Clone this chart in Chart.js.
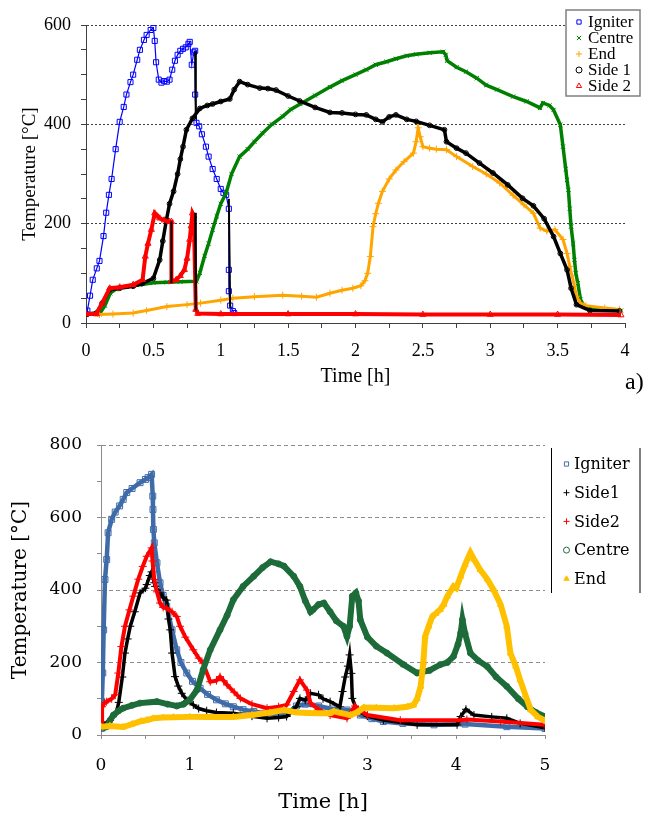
<!DOCTYPE html>
<html>
<head>
<meta charset="utf-8">
<script src="https://cdn.jsdelivr.net/npm/chart.js@4.4.0/dist/chart.umd.min.js"></script>
<style>
  html, body { margin: 0; padding: 0; background: #fff; }
  #wrap { position: relative; width: 663px; height: 831px; }
  #topChart { position: absolute; left: 0; top: 0; }
  #botChart { position: absolute; left: 0; top: 400px; }
  #tag { position: absolute; left: 625px; top: 369px; font: 24px/24px "Liberation Serif", serif; color: #000; }
</style>
</head>
<body>
<div id="wrap">
  <canvas id="topChart" width="663" height="400"></canvas>
  <canvas id="botChart" width="663" height="431"></canvas>
  <div id="tag">a)</div>
</div>
<script>
// ---- panel a) : time [h], temperature [°C] ----
const aIgniter = [[0,18],[0.01,25],[0.03,55],[0.05,87],[0.08,110],[0.1,125],[0.13,175],[0.15,222],[0.17,258],[0.19,290],[0.22,350],[0.25,405],[0.28,435],[0.3,460],[0.33,485],[0.35,500],[0.38,530],[0.4,550],[0.43,570],[0.45,580],[0.48,590],[0.5,594],[0.51,568],[0.52,525],[0.54,490],[0.56,484],[0.58,487],[0.6,486],[0.62,490],[0.64,510],[0.66,528],[0.68,540],[0.7,548],[0.72,552],[0.74,555],[0.76,562],[0.77,566],[0.785,520],[0.8,545],[0.81,548],[0.81,460],[0.82,403],[0.84,396],[0.86,380],[0.89,355],[0.91,335],[0.94,310],[0.97,290],[1.0,270],[1.02,262],[1.04,258],[1.06,230],[1.06,107],[1.06,64],[1.07,35],[1.09,24],[1.1,20]];
const aCentre = [[0,18],[0.1,18],[0.14,35],[0.18,60],[0.22,68],[0.25,71],[0.3,73],[0.4,77],[0.5,81],[0.6,82],[0.7,83],[0.82,84],[0.845,101],[0.88,135],[0.91,160],[0.94,188],[0.97,215],[1.0,240],[1.04,262],[1.08,300],[1.14,335],[1.2,350],[1.25,365],[1.31,382],[1.38,400],[1.46,416],[1.52,430],[1.59,441],[1.7,458],[1.81,475],[1.9,488],[2.0,500],[2.08,510],[2.15,520],[2.23,526],[2.3,532],[2.38,538],[2.45,541],[2.55,544],[2.65,546],[2.67,540],[2.68,528],[2.75,515],[2.82,506],[2.9,493],[2.97,479],[3.05,470],[3.17,456],[3.27,446],[3.37,433],[3.39,443],[3.44,438],[3.47,429],[3.52,399],[3.54,355],[3.56,310],[3.57,288],[3.58,268],[3.59,230],[3.6,194],[3.615,160],[3.625,127],[3.635,100],[3.65,80],[3.67,47],[3.7,32],[3.8,27],[3.97,25]];
const aEnd = [[0,18],[0.1,17],[0.2,18],[0.35,20],[0.45,25],[0.6,33],[0.75,37],[0.85,40],[1.0,46],[1.09,50],[1.25,53],[1.46,56],[1.6,54],[1.71,52],[1.81,60],[1.9,66],[1.98,70],[2.04,75],[2.07,85],[2.09,100],[2.11,134],[2.13,194],[2.15,220],[2.17,241],[2.2,265],[2.25,290],[2.3,308],[2.36,325],[2.43,342],[2.45,365],[2.465,393],[2.48,375],[2.5,355],[2.55,352],[2.6,350],[2.675,349],[2.75,335],[2.87,315],[2.97,300],[3.07,282],[3.17,257],[3.25,238],[3.32,221],[3.37,191],[3.42,185],[3.48,188],[3.54,168],[3.57,140],[3.59,114],[3.62,80],[3.64,54],[3.67,40],[3.71,35],[3.85,30],[3.96,27]];
const aSide1 = [[0,18],[0.077,20],[0.12,40],[0.176,67],[0.25,70],[0.35,74],[0.42,80],[0.5,90],[0.547,127],[0.57,165],[0.597,208],[0.62,240],[0.65,265],[0.68,300],[0.7,330],[0.72,355],[0.745,389],[0.79,412],[0.845,432],[0.9,438],[0.94,441],[1.0,446],[1.067,451],[1.1,470],[1.14,486],[1.2,480],[1.29,473],[1.35,472],[1.41,469],[1.5,457],[1.586,447],[1.7,434],[1.81,424],[1.9,423],[2.0,420],[2.08,419],[2.15,410],[2.2,405],[2.25,415],[2.3,419],[2.38,410],[2.45,406],[2.55,398],[2.66,389],[2.675,365],[2.75,352],[2.82,342],[2.92,322],[3.02,302],[3.13,278],[3.24,251],[3.32,236],[3.4,210],[3.47,174],[3.52,140],[3.57,107],[3.6,70],[3.64,37],[3.74,25],[3.96,24]];
const aSide2 = [[0,18],[0.077,18],[0.12,40],[0.176,70],[0.25,72],[0.35,77],[0.42,87],[0.44,134],[0.46,160],[0.485,188],[0.51,221],[0.53,215],[0.547,211],[0.58,207],[0.62,204],[0.634,204],[0.634,84],[0.67,87],[0.7,95],[0.73,107],[0.75,130],[0.77,168],[0.78,195],[0.79,221],[0.8,215],[0.815,27],[0.83,19],[1.0,18],[1.5,18],[2.0,18],[2.5,17],[3.0,17],[3.5,17],[3.97,16]];
// black vertical connectors at the sudden drops
const aDrops = [[[0.634,205],[0.634,80]], [[0.81,222],[0.815,25]], [[1.06,250],[1.07,30]], [[0.81,547],[0.815,410]]];

const aNames = ['Igniter', 'Centre', 'End', 'Side 1', 'Side 2'];
const aXTicks = [0, 0.5, 1, 1.5, 2, 2.5, 3, 3.5, 4];
const aYTicks = [0, 200, 400, 600];

// ---- panel b) ----
const bIgniter = [[0,20],[0.01,92],[0.02,171],[0.03,290],[0.045,429],[0.064,484],[0.08,558],[0.12,595],[0.16,615],[0.21,632],[0.25,650],[0.29,669],[0.35,680],[0.44,696],[0.5,705],[0.53,710],[0.57,719],[0.583,659],[0.585,622],[0.59,567],[0.6,530],[0.63,475],[0.665,420],[0.7,385],[0.74,355],[0.8,290],[0.853,235],[0.9,200],[0.966,171],[1.03,148],[1.116,129],[1.2,112],[1.3,97],[1.4,86],[1.49,78],[1.6,70],[1.72,65],[1.85,60],[2.0,58],[2.1,60],[2.2,80],[2.3,85],[2.45,80],[2.6,72],[2.77,69],[2.85,65],[2.92,55],[3.05,45],[3.18,37],[3.4,32],[3.75,28],[4.1,30],[4.57,23],[5.0,18]];
const bSide1 = [[0,25],[0.1,40],[0.17,60],[0.2,90],[0.24,160],[0.27,226],[0.3,265],[0.33,300],[0.38,340],[0.44,392],[0.5,405],[0.515,415],[0.55,440],[0.57,450],[0.6,420],[0.61,410],[0.665,392],[0.7,380],[0.74,372],[0.76,320],[0.78,290],[0.8,226],[0.834,161],[0.87,135],[0.91,115],[0.97,95],[1.04,83],[1.1,73],[1.19,67],[1.3,62],[1.49,60],[1.7,52],[1.87,46],[2.0,48],[2.09,51],[2.2,78],[2.24,101],[2.3,96],[2.36,115],[2.45,111],[2.5,100],[2.58,92],[2.69,78],[2.72,120],[2.75,160],[2.78,190],[2.8,221],[2.82,170],[2.83,101],[2.88,69],[3.0,52],[3.18,41],[3.56,28],[4.01,28],[4.05,51],[4.11,71],[4.2,55],[4.4,50],[4.57,46],[4.72,32],[5.0,20]];
const bSide2 = [[0,37],[0.011,78],[0.04,88],[0.064,92],[0.12,100],[0.16,111],[0.195,171],[0.23,244],[0.27,300],[0.32,345],[0.364,383],[0.42,430],[0.47,465],[0.515,493],[0.57,516],[0.58,480],[0.6,429],[0.63,395],[0.665,364],[0.7,352],[0.74,350],[0.8,340],[0.853,327],[0.89,300],[0.95,270],[1.04,235],[1.1,212],[1.15,198],[1.23,147],[1.3,150],[1.34,161],[1.38,150],[1.42,138],[1.5,118],[1.57,101],[1.7,85],[1.87,74],[2.0,78],[2.09,83],[2.17,120],[2.24,152],[2.32,124],[2.36,88],[2.45,70],[2.58,55],[2.77,46],[2.86,80],[2.9,70],[3.0,55],[3.37,41],[4.05,41],[4.12,43],[4.5,37],[4.99,28]];
const bCentre = [[0.02,18],[0.064,23],[0.1,40],[0.14,55],[0.2,67],[0.25,74],[0.35,82],[0.44,88],[0.63,92],[0.75,85],[0.853,80],[0.93,85],[1.0,97],[1.08,124],[1.15,180],[1.23,235],[1.34,290],[1.42,330],[1.49,373],[1.6,410],[1.72,438],[1.82,462],[1.91,478],[2.0,472],[2.06,466],[2.17,438],[2.24,410],[2.3,370],[2.36,340],[2.39,346],[2.45,360],[2.51,364],[2.58,340],[2.65,315],[2.73,300],[2.77,272],[2.8,300],[2.83,383],[2.87,392],[2.9,370],[2.92,318],[3.0,270],[3.1,245],[3.22,226],[3.4,195],[3.56,171],[3.7,178],[3.82,194],[3.9,200],[3.97,217],[4.02,250],[4.05,281],[4.07,318],[4.1,280],[4.16,226],[4.25,205],[4.35,189],[4.45,160],[4.57,134],[4.7,100],[4.8,78],[4.9,62],[5.0,51]];
const bEnd = [[0,23],[0.1,25],[0.25,22],[0.35,30],[0.45,38],[0.515,41],[0.59,46],[0.7,48],[0.815,49],[1.0,50],[1.2,50],[1.49,50],[1.7,55],[1.9,62],[2.06,69],[2.2,62],[2.4,60],[2.58,60],[2.62,65],[2.81,55],[2.88,62],[2.96,76],[3.1,75],[3.3,74],[3.45,78],[3.52,83],[3.56,100],[3.6,134],[3.63,200],[3.65,272],[3.69,300],[3.73,327],[3.77,335],[3.82,346],[3.86,360],[3.9,383],[3.97,410],[4.0,405],[4.05,438],[4.1,470],[4.16,503],[4.2,485],[4.27,456],[4.35,430],[4.42,401],[4.5,360],[4.57,300],[4.61,226],[4.67,190],[4.72,152],[4.78,110],[4.84,69],[4.92,50],[5.02,37]];

const bNames = ['Igniter', 'Side1', 'Side2', 'Centre', 'End'];
const bXTicks = [0, 1, 2, 3, 4, 5];
const bYTicks = [0, 200, 400, 600, 800];

// ---- styles ----
const TOPFONT = '"Liberation Serif", "Times New Roman", serif';
const BOTFONT = '"DejaVu Serif", serif';

const aStyles = [
  { color: '#0000ff', style: 'rect', r: 3.6, lw: 1.2, fill: false, order: 5 },
  { color: '#008000', style: 'crossRot', r: 3, lw: 3.5, fill: false, order: 4 },
  { color: '#ffa500', style: 'cross', r: 3.5, lw: 3, fill: false, order: 3 },
  { color: '#000000', style: 'circle', r: 2.4, lw: 3.5, fill: false, order: 2 },
  { color: '#ff0000', style: 'triangle', r: 3.5, lw: 4, fill: false, order: 1 }
];
const bStyles = [
  { color: '#3f6ba8', style: 'rect', r: 4.2, lw: 4.5, fill: false, order: 5 },
  { color: '#000000', style: 'cross', r: 4, lw: 3.5, fill: false, order: 4 },
  { color: '#ff0000', style: 'cross', r: 4, lw: 4, fill: false, order: 3 },
  { color: '#1e6b3a', style: 'circle', r: 3, lw: 6, fill: false, order: 2 },
  { color: '#ffc000', style: 'triangle', r: 3.6, lw: 6, fill: true, order: 1 }
];

const pts = a => a.map(p => ({ x: p[0], y: p[1] }));

function seriesSet(name, data, s) {
  return {
    label: name,
    data: pts(data),
    showLine: true,
    tension: 0,
    borderColor: s.color,
    borderWidth: s.lw,
    pointStyle: s.style,
    pointRadius: s.r,
    pointBorderWidth: 1,
    pointBorderColor: s.color,
    pointBackgroundColor: s.fill ? s.color : 'rgba(0,0,0,0)',
    order: s.order
  };
}

function drawMarker(ctx, s, x, y, r) {
  ctx.save();
  ctx.strokeStyle = s.color;
  ctx.fillStyle = s.color;
  ctx.lineWidth = 1;
  ctx.beginPath();
  if (s.style === 'rect') {
    const h = r * Math.SQRT1_2;
    ctx.rect(x - h, y - h, 2 * h, 2 * h);
  } else if (s.style === 'circle') {
    ctx.arc(x, y, r, 0, Math.PI * 2);
  } else if (s.style === 'triangle') {
    ctx.moveTo(x, y - r);
    ctx.lineTo(x + r * 0.87, y + r * 0.5);
    ctx.lineTo(x - r * 0.87, y + r * 0.5);
    ctx.closePath();
  } else if (s.style === 'cross') {
    ctx.moveTo(x - r, y); ctx.lineTo(x + r, y);
    ctx.moveTo(x, y - r); ctx.lineTo(x, y + r);
  } else if (s.style === 'crossRot') {
    const h = r * 0.7;
    ctx.moveTo(x - h, y - h); ctx.lineTo(x + h, y + h);
    ctx.moveTo(x + h, y - h); ctx.lineTo(x - h, y + h);
  }
  if (s.fill) ctx.fill();
  ctx.stroke();
  ctx.restore();
}

const isTick = (list, v) => list.some(t => Math.abs(t - v) < 1e-6);

// ---------- top chart ----------
const topLegend = {
  id: 'topLegend',
  afterDraw(chart) {
    const ctx = chart.ctx;
    ctx.save();
    ctx.fillStyle = '#fff';
    ctx.fillRect(566, 10, 74, 86);
    ctx.strokeStyle = '#808080';
    ctx.lineWidth = 1.5;
    ctx.strokeRect(566, 10, 74, 86);
    ctx.font = '17px ' + TOPFONT;
    ctx.textBaseline = 'middle';
    ctx.fillStyle = '#000';
    aNames.forEach((n, i) => {
      const y = 22 + i * 16;
      drawMarker(ctx, aStyles[i], 579, y, 3);
      ctx.fillText(n, 588, y + 1);
    });
    ctx.restore();
  }
};

const topSeries = [aIgniter, aCentre, aEnd, aSide1, aSide2];
const topDatasets = topSeries.map((d, i) => seriesSet(aNames[i], d, aStyles[i]));
aDrops.forEach(d => topDatasets.push({
  label: 'drop', data: pts(d), showLine: true, borderColor: '#000', borderWidth: 2,
  pointRadius: 0, order: 0
}));

new Chart(document.getElementById('topChart'), {
  type: 'scatter',
  data: { datasets: topDatasets },
  options: {
    responsive: false,
    animation: false,
    layout: { padding: { top: 25, right: 38, left: 0, bottom: 0 } },
    plugins: { legend: { display: false }, tooltip: { enabled: false } },
    scales: {
      x: {
        type: 'linear', min: 0, max: 4,
        afterFit: s => { s.height = 77; },
        ticks: {
          stepSize: 0.25, autoSkip: false, maxRotation: 0, padding: 12, color: '#000',
          font: { family: TOPFONT, size: 18 },
          callback: v => isTick(aXTicks, v) ? String(v) : ''
        },
        grid: { drawOnChartArea: false, tickLength: 5, tickColor: '#404040' },
        border: { color: '#404040', width: 1 },
        title: {
          display: true, text: 'Time [h]', color: '#000',
          font: { family: TOPFONT, size: 20 }, padding: { top: 0, bottom: 11 }
        }
      },
      y: {
        min: 0, max: 600,
        afterFit: s => { s.width = 86; },
        ticks: {
          stepSize: 50, autoSkip: false, padding: 10, color: '#000',
          font: { family: TOPFONT, size: 18 },
          callback: v => isTick(aYTicks, v) ? String(v) : ''
        },
        grid: {
          tickLength: 5, tickColor: '#404040', lineWidth: 1,
          color: c => (c.tick && c.tick.value > 0 && isTick(aYTicks, c.tick.value)) ? '#404040' : 'rgba(0,0,0,0)'
        },
        border: { color: '#404040', width: 1, dash: [2, 2] },
        title: {
          display: true, text: 'Temperature [°C]', color: '#000',
          font: { family: TOPFONT, size: 19 }, padding: { top: 19, bottom: 0 }
        }
      }
    }
  },
  plugins: [topLegend]
});

// ---------- bottom chart ----------
const botLegend = {
  id: 'botLegend',
  afterDraw(chart) {
    const ctx = chart.ctx;
    ctx.save();
    ctx.strokeStyle = '#000';
    ctx.lineWidth = 1;
    ctx.beginPath(); ctx.moveTo(551.5, 48); ctx.lineTo(551.5, 193); ctx.stroke();
    ctx.strokeStyle = '#808080';
    ctx.lineWidth = 2;
    ctx.beginPath(); ctx.moveTo(640, 48); ctx.lineTo(640, 193); ctx.stroke();
    ctx.font = '16px ' + BOTFONT;
    ctx.textBaseline = 'middle';
    ctx.fillStyle = '#000';
    bNames.forEach((n, i) => {
      const y = 64 + i * 28.7;
      drawMarker(ctx, bStyles[i], 566.5, y, 3);
      ctx.fillText(n, 574, y + 1);
    });
    ctx.restore();
  }
};

const botSeries = [bIgniter, bSide1, bSide2, bCentre, bEnd];

new Chart(document.getElementById('botChart'), {
  type: 'scatter',
  data: { datasets: botSeries.map((d, i) => seriesSet(bNames[i], d, bStyles[i])) },
  options: {
    responsive: false,
    animation: false,
    layout: { padding: { top: 45, right: 118, left: 0, bottom: 0 } },
    plugins: { legend: { display: false }, tooltip: { enabled: false } },
    scales: {
      x: {
        type: 'linear', min: 0, max: 5,
        afterFit: s => { s.height = 96; },
        ticks: {
          stepSize: 0.5, autoSkip: false, maxRotation: 0, padding: 16, color: '#000',
          font: { family: BOTFONT, size: 17 },
          callback: v => isTick(bXTicks, v) ? String(v) : ''
        },
        grid: { drawOnChartArea: false, tickLength: 4, tickColor: '#8c8c8c' },
        border: { color: '#8c8c8c', width: 1 },
        title: {
          display: true, text: 'Time [h]', color: '#000',
          font: { family: BOTFONT, size: 21 }, padding: { top: 0, bottom: 16 }
        }
      },
      y: {
        min: 0, max: 800,
        afterFit: s => { s.width = 101; },
        ticks: {
          stepSize: 100, autoSkip: false, padding: 15, color: '#000',
          font: { family: BOTFONT, size: 17 },
          callback: v => isTick(bYTicks, v) ? String(v) : ''
        },
        grid: {
          tickLength: 4, tickColor: '#8c8c8c', lineWidth: 1,
          color: c => (c.tick && c.tick.value > 0 && isTick(bYTicks, c.tick.value)) ? '#8c8c8c' : 'rgba(0,0,0,0)'
        },
        border: { color: '#8c8c8c', width: 1, dash: [4, 3] },
        title: {
          display: true, text: 'Temperature [°C]', color: '#000',
          font: { family: BOTFONT, size: 20 }, padding: { top: 9, bottom: 0 }
        }
      }
    }
  },
  plugins: [botLegend]
});
</script>
</body>
</html>
